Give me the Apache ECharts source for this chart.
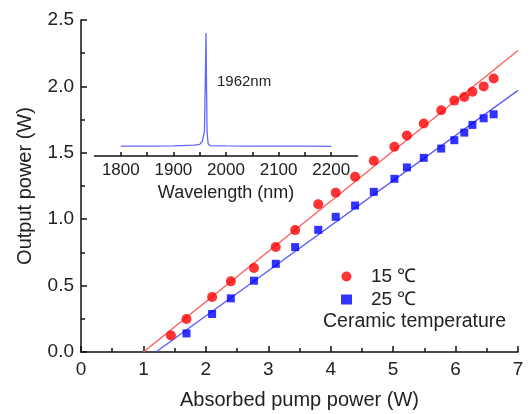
<!DOCTYPE html>
<html>
<head>
<meta charset="utf-8">
<script src="https://cdn.jsdelivr.net/npm/echarts@6/dist/echarts.min.js"></script>
<style>
  html, body { margin: 0; padding: 0; background: #fff; }
  #chart { width: 532px; height: 414px; }
</style>
</head>
<body>
<div id="chart"></div>
<script>
  // 15 ℃ 数据 (absorbed pump power, output power)
  var pump15 = [1.44, 1.69, 2.10, 2.40, 2.77, 3.12, 3.43, 3.80, 4.08, 4.39, 4.69, 5.02, 5.22, 5.49, 5.77, 5.98, 6.14, 6.27, 6.45, 6.61];
  var out15 = [0.125, 0.248, 0.414, 0.532, 0.632, 0.79, 0.918, 1.113, 1.20, 1.32, 1.44, 1.545, 1.63, 1.72, 1.82, 1.893, 1.92, 1.96, 2.00, 2.06];

  // 25 ℃ 数据
  var pump25 = [1.69, 2.10, 2.40, 2.77, 3.12, 3.43, 3.80, 4.08, 4.39, 4.69, 5.02, 5.22, 5.49, 5.77, 5.98, 6.14, 6.27, 6.45, 6.61];
  var out25 = [0.14, 0.286, 0.404, 0.537, 0.664, 0.79, 0.92, 1.018, 1.103, 1.206, 1.304, 1.39, 1.462, 1.532, 1.595, 1.652, 1.71, 1.76, 1.79];

  // 线性拟合线端点
  var fit15 = [[1.0, 0], [7, 2.27]];
  var fit25 = [[1.2, 0], [7, 1.97]];

  // 插图：光谱
  var waveNm = [1800, 1850, 1900, 1940, 1950, 1955, 1957, 1959, 1960, 1961, 1962, 1963, 1964, 1966, 1970, 2000, 2050, 2100, 2150, 2200];
  var intensity = [0.08, 0.08, 0.083, 0.088, 0.095, 0.12, 0.16, 0.2, 0.45, 0.72, 1.0, 0.55, 0.2, 0.1, 0.085, 0.082, 0.08, 0.08, 0.08, 0.078];

  var legendNames = ['15 ℃', '25 ℃'];

  function zip(xs, ys) {
    var arr = [];
    for (var i = 0; i < xs.length; i++) arr.push([xs[i], ys[i]]);
    return arr;
  }

  var font = 'Liberation Sans, Arial, sans-serif';
  var axisLineStyle = { color: '#111', width: 1.5 };

  var option = {
    animation: false,
    backgroundColor: '#fff',
    textStyle: { fontFamily: font },
    legend: {
      data: [
        { name: legendNames[0], icon: 'circle' },
        { name: legendNames[1], icon: 'rect' }
      ],
      orient: 'vertical',
      left: 336,
      top: 262,
      itemWidth: 11,
      itemHeight: 10,
      itemGap: 4,
      textStyle: { fontSize: 19, color: '#222', fontFamily: font, padding: [0, 0, 0, 14] }
    },
    graphic: [{
      type: 'text',
      left: 323,
      top: 312,
      style: { text: 'Ceramic temperature', fontSize: 19.5, fill: '#222', fontFamily: font }
    }, {
      type: 'text',
      left: 217,
      top: 74,
      style: { text: '1962nm', fontSize: 15, fill: '#222', fontFamily: font }
    }],
    grid: [
      { left: 81, right: 14, top: 20, bottom: 62, outerBoundsMode: 'none' },
      { left: 94.5, right: 174.5, top: 33, bottom: 258, outerBoundsMode: 'none' }
    ],
    xAxis: [{
      gridIndex: 0,
      type: 'value',
      min: 0, max: 7, interval: 1,
      name: 'Absorbed pump power (W)',
      nameLocation: 'middle',
      nameGap: 38,
      nameTextStyle: { fontSize: 20, color: '#222' },
      axisLine: { lineStyle: axisLineStyle },
      axisTick: { inside: true, length: 6, lineStyle: axisLineStyle },
      minorTick: { show: true, splitNumber: 2, length: 4, lineStyle: axisLineStyle },
      axisLabel: { fontSize: 19, color: '#222', margin: 8 },
      splitLine: { show: false }
    }, {
      gridIndex: 1,
      type: 'value',
      min: 1750, max: 2250, interval: 50,
      name: 'Wavelength (nm)',
      nameLocation: 'middle',
      nameGap: 28,
      nameTextStyle: { fontSize: 18, color: '#222' },
      axisLine: { lineStyle: axisLineStyle },
      axisTick: { inside: true, length: 4, lineStyle: axisLineStyle },
      axisLabel: {
        fontSize: 17, color: '#222', margin: 6,
        showMinLabel: false, showMaxLabel: false,
        formatter: function (v) { return v % 100 === 0 ? String(v) : ''; }
      },
      splitLine: { show: false }
    }],
    yAxis: [{
      gridIndex: 0,
      type: 'value',
      min: 0, max: 2.5, interval: 0.5,
      name: 'Output power (W)',
      nameLocation: 'middle',
      nameGap: 46,
      nameTextStyle: { fontSize: 20, color: '#222' },
      axisLine: { show: true, lineStyle: axisLineStyle },
      axisTick: { inside: true, length: 6, lineStyle: axisLineStyle },
      minorTick: { show: true, splitNumber: 2, length: 4, lineStyle: axisLineStyle },
      axisLabel: { fontSize: 19, color: '#222', margin: 7, formatter: function (v) { return v.toFixed(1); } },
      splitLine: { show: false }
    }, {
      gridIndex: 1,
      type: 'value',
      min: 0, max: 1,
      show: false
    }],
    series: [{
      name: legendNames[0],
      type: 'scatter',
      xAxisIndex: 0, yAxisIndex: 0,
      symbol: 'circle',
      symbolSize: 10,
      itemStyle: { color: '#ff0000' },
      data: zip(pump15, out15),
      z: 3
    }, {
      name: legendNames[1],
      type: 'scatter',
      xAxisIndex: 0, yAxisIndex: 0,
      symbol: 'rect',
      symbolSize: 8,
      itemStyle: { color: '#0000ff' },
      data: zip(pump25, out25),
      z: 3
    }, {
      name: 'fit15',
      type: 'line',
      xAxisIndex: 0, yAxisIndex: 0,
      showSymbol: false,
      lineStyle: { color: '#ff5a5a', width: 1.3 },
      data: fit15,
      z: 2
    }, {
      name: 'fit25',
      type: 'line',
      xAxisIndex: 0, yAxisIndex: 0,
      showSymbol: false,
      lineStyle: { color: '#5a5aff', width: 1.3 },
      data: fit25,
      z: 2
    }, {
      name: 'spectrum',
      type: 'line',
      xAxisIndex: 1, yAxisIndex: 1,
      showSymbol: false,
      lineStyle: { color: '#6464ff', width: 1.3 },
      data: zip(waveNm, intensity)
    }]
  };

  var myChart = echarts.init(document.getElementById('chart'));
  myChart.setOption(option);
</script>
</body>
</html>
